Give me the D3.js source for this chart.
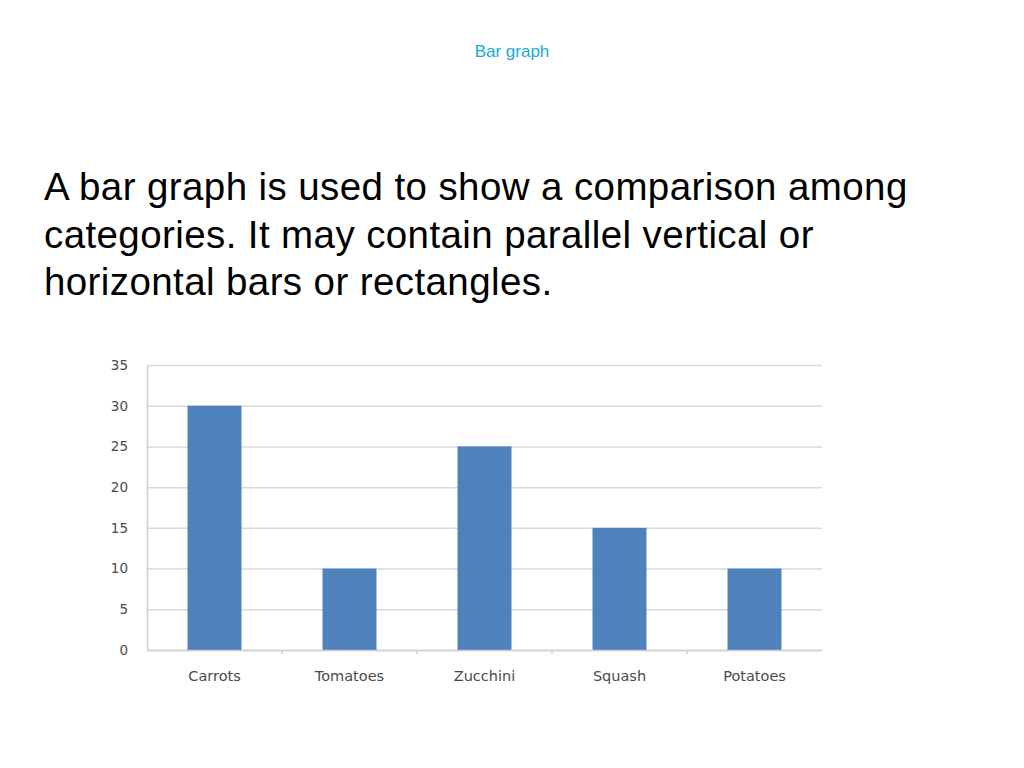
<!DOCTYPE html>
<html>
<head>
<meta charset="utf-8">
<script src="https://cdn.jsdelivr.net/npm/d3@7"></script>
<style>
  body { margin: 0; background: #fff; }
</style>
</head>
<body>
<script>
// vegetables bar chart, same layout as the slide
var categories = ['Carrots', 'Tomatoes', 'Zucchini', 'Squash', 'Potatoes'];
var values = [30, 10, 25, 15, 10];
var yTicks = [0, 5, 10, 15, 20, 25, 30, 35];
var bodyLines = [
  'A bar graph is used to show a comparison among',
  'categories. It may contain parallel vertical or',
  'horizontal bars or rectangles.'
];

var svg = d3.select('body')
  .append('svg')
  .attr('width', 1024)
  .attr('height', 768);

svg.append('text')
  .attr('x', 512)
  .attr('y', 57)
  .attr('text-anchor', 'middle')
  .style('font-family', 'Liberation Sans, Arial, sans-serif')
  .style('font-size', '17px')
  .style('fill', '#1ba8dc')
  .text('Bar graph');

svg.selectAll('text.body')
  .data(bodyLines)
  .enter()
    .append('text')
    .attr('class', 'body')
    .attr('x', 44)
    .attr('y', function(d, i) { return 200 + i * 47.5; })
    .style('font-family', 'Liberation Sans, Arial, sans-serif')
    .style('font-size', '38.5px')
    .style('letter-spacing', '0.4px')
    .style('fill', '#000')
    .text(function(d) { return d; });

var chartLeft = 147, chartRight = 822, chartTop = 365, chartBottom = 650;

var x = d3.scaleBand()
  .domain(categories)
  .range([chartLeft, chartRight])
  .paddingInner(0.6)
  .paddingOuter(0.3);

var y = d3.scaleLinear()
  .domain([0, 35])
  .range([chartBottom, chartTop]);

// gridlines
svg.append('g')
  .attr('transform', 'translate(' + chartLeft + ',0)')
  .call(d3.axisLeft(y).tickValues(yTicks).tickSize(-(chartRight - chartLeft)).tickFormat(''))
  .call(function(g) {
    g.select('.domain').remove();
    g.selectAll('line').attr('stroke', '#d9d9d9').attr('stroke-width', 1.5);
  });

// y labels
svg.append('g')
  .attr('transform', 'translate(' + chartLeft + ',0)')
  .call(d3.axisLeft(y).tickValues(yTicks).tickSize(0).tickPadding(19))
  .call(function(g) {
    g.select('.domain').attr('stroke', '#d0d0d0').attr('stroke-width', 1.5);
    g.selectAll('text')
      .style('font-family', 'DejaVu Sans, sans-serif')
      .style('font-size', '13.5px')
      .style('fill', '#4a4a4a');
  });

svg.selectAll('rect.bar')
  .data(values)
  .enter()
    .append('rect')
    .attr('class', 'bar')
    .attr('x', function(d, i) { return x(categories[i]); })
    .attr('y', function(d) { return y(d); })
    .attr('width', x.bandwidth())
    .attr('height', function(d) { return y(0) - y(d); })
    .attr('fill', '#4f81bd');

// x axis with category labels, small marks between categories
svg.append('g')
  .attr('transform', 'translate(0,' + chartBottom + ')')
  .call(d3.axisBottom(x).tickSize(0).tickPadding(21))
  .call(function(g) {
    g.select('.domain').attr('stroke', '#d0d0d0').attr('stroke-width', 1.5);
    g.selectAll('text')
      .style('font-family', 'DejaVu Sans, sans-serif')
      .style('font-size', '14.5px')
      .style('fill', '#4a4a4a');
  });

svg.selectAll('line.sep')
  .data(categories.slice(1))
  .enter()
    .append('line')
    .attr('class', 'sep')
    .attr('x1', function(d) { return x(d) - x.step() * x.paddingInner() / 2; })
    .attr('x2', function(d) { return x(d) - x.step() * x.paddingInner() / 2; })
    .attr('y1', chartBottom)
    .attr('y2', chartBottom + 4)
    .attr('stroke', '#d0d0d0')
    .attr('stroke-width', 1.5);
</script>
</body>
</html>
